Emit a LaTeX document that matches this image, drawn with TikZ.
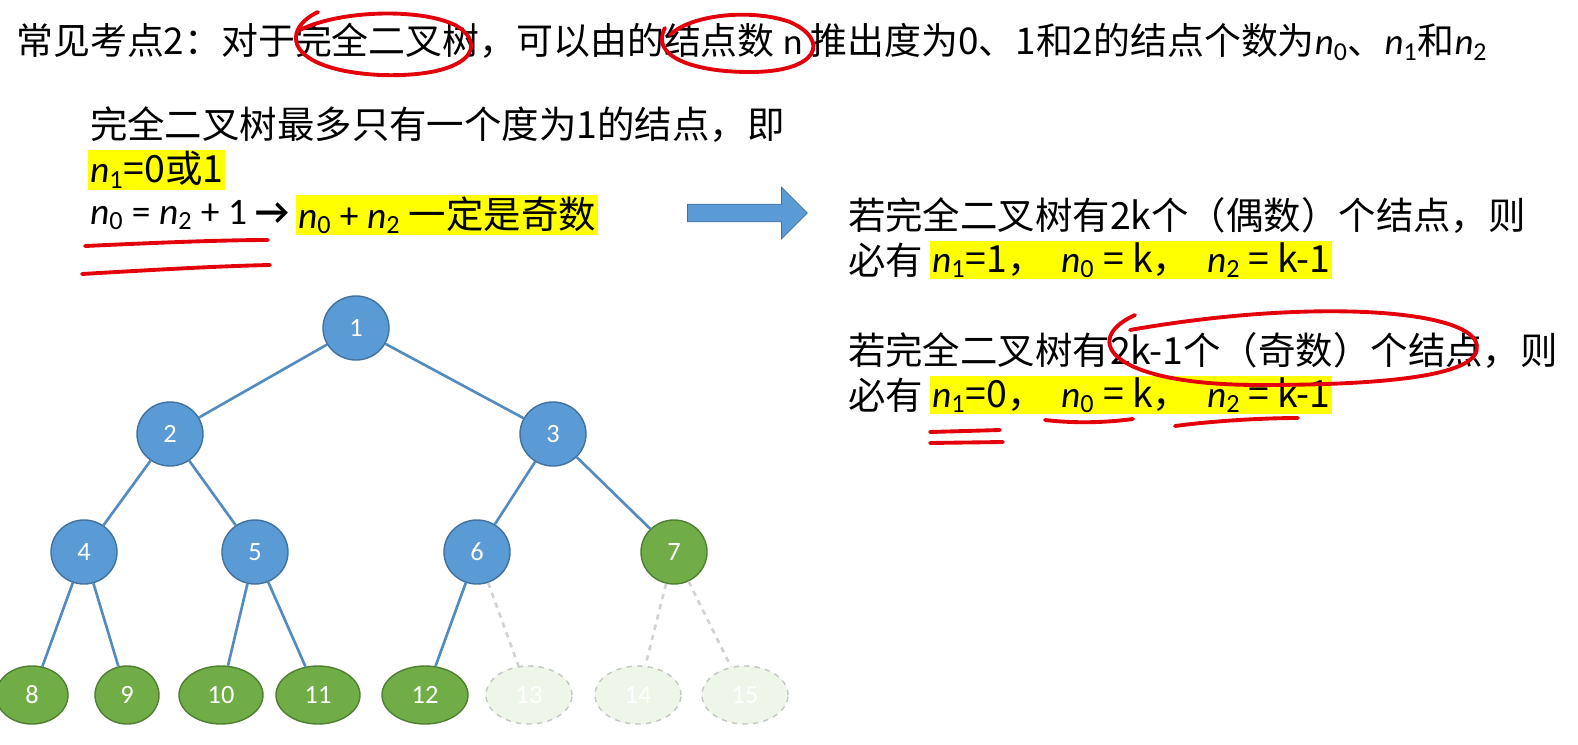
\documentclass[tikz,border=0pt]{standalone}
\usepackage{fontspec}
\setmainfont{Noto Sans CJK SC}
\newfontfamily\lat{Carlito}
\usetikzlibrary{shapes.arrows,shapes.geometric}
\newcommand{\nn}[1]{{\lat\itshape n}\textsubscript{\lat #1}}
\definecolor{bfill}{HTML}{5B9BD5}
\definecolor{bdraw}{HTML}{41719C}
\definecolor{gfill}{HTML}{70AD47}
\definecolor{gdraw}{HTML}{507E32}
\definecolor{hl}{HTML}{FFFF00}
\definecolor{redink}{HTML}{E3000B}
\tikzset{
 bnode/.style={ellipse,minimum width=66*0.02cm,minimum height=64*0.02cm,fill=bfill,draw=bdraw,line width=0.8pt,text=white,font=\lat\fontsize{15}{15}\selectfont,inner sep=0pt},
 gnode/.style={bnode,fill=gfill,draw=gdraw,minimum width=72*0.02cm,minimum height=58*0.02cm},
 fnode/.style={gnode,fill=gfill!12,draw=gray!45,dashed,text=white},
 edge/.style={draw=bfill!90!black,line width=1.5pt},
 fedge/.style={draw=gray!35,dashed,line width=1.5pt},
 big/.style={anchor=west,inner sep=1pt,font=\fontsize{21.3}{22}\selectfont},
 hil/.style={big,fill=hl},
 ink/.style={draw=redink,line width=2.2pt,line cap=round}
}
\begin{document}
\begin{tikzpicture}[x=0.02cm,y=-0.02cm]
\useasboundingbox (0,0) rectangle (1578,744);
\fill[white] (0,0) rectangle (1578,744);
\node[anchor=west,inner sep=0,font=\fontsize{21}{22}\selectfont] (top) at (16,42) {常见考点2：对于完全二叉树，可以由的结点数 {\lat n} 推出度为0、1和2的结点个数为\nn{0}、\nn{1}和\nn{2}};
\node[big] (l1) at (88,125) {完全二叉树最多只有一个度为1的结点，即};
\node[hil] (l2) at (88,170) {\nn{1}=0或1};
\node[big] (l3) at (88,215) {{\lat\nn{0} = \nn{2} + 1} {\lat\bfseries →}};
\node[hil] (l3b) at (296,215) {{\lat\nn{0} + \nn{2}} 一定是奇数};
\node[single arrow,fill=bfill,draw=bdraw,minimum height=120*0.02cm,minimum width=52*0.02cm,single arrow head extend=0.15cm,inner sep=2pt] (arr) at (743,213) {};
\node[big] (r1) at (846,215) {若完全二叉树有2k个（偶数）个结点，则};
\node[big] (r2) at (846,260) {必有};
\node[hil] (r2b) at (930,260) {\nn{1}=1，\ \ \nn{0} = k，\ \ \nn{2} = k-1};
\node[big] (r3) at (846,350) {若完全二叉树有2k-1个（奇数）个结点，则};
\node[big] (r4) at (846,395) {必有};
\node[hil] (r4b) at (930,395) {\nn{1}=0，\ \ \nn{0} = k，\ \ \nn{2} = k-1};
% tree
\node[bnode] (n1) at (356,328) {1};
\node[bnode] (n2) at (170,434) {2};
\node[bnode] (n3) at (553,434) {3};
\node[bnode] (n4) at (84,552) {4};
\node[bnode] (n5) at (255,552) {5};
\node[bnode] (n6) at (477,552) {6};
\node[bnode,fill=gfill,draw=gdraw] (n7) at (674,552) {7};
\node[gnode] (n8) at (32,695) {8};
\node[gnode,minimum width=64*0.02cm] (n9) at (127,695) {9};
\node[gnode,minimum width=84*0.02cm] (n10) at (221,695) {10};
\node[gnode,minimum width=84*0.02cm] (n11) at (318,695) {11};
\node[gnode,minimum width=86*0.02cm] (n12) at (425,695) {12};
\node[fnode,minimum width=86*0.02cm] (n13) at (529,695) {13};
\node[fnode,minimum width=86*0.02cm] (n14) at (638,695) {14};
\node[fnode,minimum width=86*0.02cm] (n15) at (745,695) {15};
\draw[edge] (n1)--(n2); \draw[edge] (n1)--(n3);
\draw[edge] (n2)--(n4); \draw[edge] (n2)--(n5);
\draw[edge] (n3)--(n6); \draw[edge] (n3)--(n7);
\draw[edge] (n4)--(n8); \draw[edge] (n4)--(n9);
\draw[edge] (n5)--(n10); \draw[edge] (n5)--(n11);
\draw[edge] (n6)--(n12); \draw[fedge] (n6)--(n13);
\draw[fedge] (n7)--(n14); \draw[fedge] (n7)--(n15);
% red ink
\draw[ink] (318,12) .. controls (280,30) and (285,70) .. (380,75) .. controls (470,78) and (490,45) .. (455,25) .. controls (420,8) and (340,10) .. (300,30);
\draw[ink] (665,28) .. controls (650,55) and (690,72) .. (750,72) .. controls (820,72) and (830,40) .. (790,22) .. controls (750,8) and (690,15) .. (670,35);
\draw[ink] (1135,315) .. controls (1080,340) and (1110,385) .. (1260,385) .. controls (1420,385) and (1490,370) .. (1475,340) .. controls (1455,308) and (1300,300) .. (1130,330);
\draw[ink] (85,246) .. controls (150,243) and (220,240) .. (268,240);
\draw[ink] (82,274) .. controls (150,270) and (220,266) .. (270,265);
\draw[ink] (930,432) -- (1000,430);
\draw[ink] (930,443) -- (1003,442);
\draw[ink] (1045,420) .. controls (1080,424) and (1110,422) .. (1133,419);
\draw[ink] (1175,426) .. controls (1220,420) and (1270,418) .. (1298,418);
\end{tikzpicture}
\end{document}
